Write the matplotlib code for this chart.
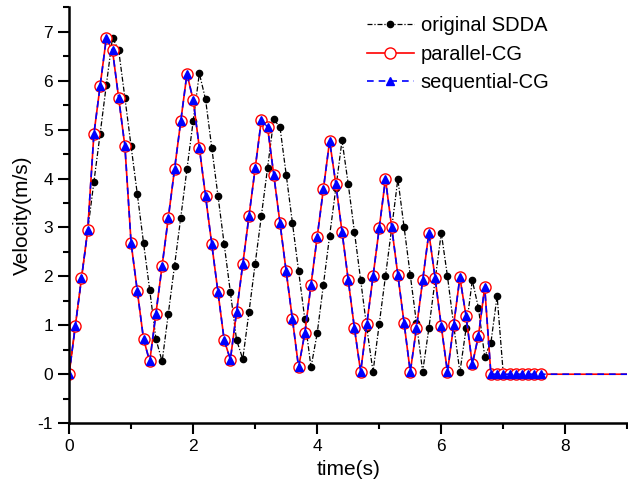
import numpy as np
import matplotlib
matplotlib.use("Agg")
import matplotlib.pyplot as plt
from matplotlib.ticker import MultipleLocator

plt.rcParams['font.family'] = ['Liberation Sans', 'DejaVu Sans']
plt.rcParams['axes.unicode_minus'] = False

# velocity samples every 0.1 s
dt = 0.1
v_sdda = [0, 0.98, 1.96, 2.94, 3.93, 4.91, 5.91, 6.88, 6.62, 5.65,
          4.66, 3.68, 2.69, 1.72, 0.72, 0.26, 1.24, 2.22, 3.20, 4.19,
          5.17, 6.15, 5.62, 4.63, 3.65, 2.66, 1.68, 0.70, 0.31, 1.27,
          2.26, 3.24, 4.22, 5.21, 5.05, 4.08, 3.10, 2.11, 1.13, 0.14,
          0.84, 1.83, 2.83, 3.80, 4.78, 3.89, 2.91, 1.93, 0.94, 0.05,
          1.03, 2.00, 2.98, 3.99, 3.01, 2.03, 1.05, 0.05, 0.94, 1.92,
          2.89, 2.00, 1.00, 0.04, 0.94, 1.92, 1.35, 0.36, 0.64, 1.60,
          0]
v_cg = [0, 0.98, 1.96, 2.94, 4.91, 5.89, 6.87, 6.62, 5.64, 4.66,
        2.68, 1.70, 0.72, 0.26, 1.24, 2.22, 3.20, 4.19, 5.17, 6.14,
        5.61, 4.63, 3.64, 2.66, 1.68, 0.70, 0.30, 1.27, 2.25, 3.23,
        4.21, 5.20, 5.05, 4.07, 3.09, 2.10, 1.13, 0.14, 0.84, 1.83,
        2.81, 3.79, 4.77, 3.89, 2.91, 1.93, 0.94, 0.05, 1.03, 2.00,
        2.99, 3.99, 3.01, 2.03, 1.05, 0.05, 0.94, 1.92, 2.89, 1.97,
        0.98, 0.04, 1.01, 1.98, 1.18, 0.20, 0.79, 1.78,
        0, 0, 0, 0, 0, 0, 0, 0, 0]
n_cg_marked = len(v_cg)
# CG solutions stay at rest until the end of the run
v_cg = v_cg + [0] * 15
v_seq = list(v_cg)

t_sdda = np.arange(len(v_sdda)) * dt
t_cg = np.arange(len(v_cg)) * dt

fig = plt.figure(figsize=(6.28, 4.92), dpi=100)
ax = fig.add_axes([0.110, 0.140, 0.889, 0.845])

ax.plot(t_sdda, v_sdda, color='black', lw=0.9, dashes=(4, 1.5, 1, 1.5),
        marker='o', ms=4.5, label='original SDDA')
ax.plot(t_cg, v_cg, color='red', lw=1.2, marker='o', ms=8,
        mfc='white', mec='red', mew=1.0, markevery=slice(0, n_cg_marked),
        label='parallel-CG')
ax.plot(t_cg, v_seq, color='blue', lw=1.2, dashes=(4, 3),
        marker='^', ms=6, mec='blue', mfc='blue',
        markevery=slice(0, n_cg_marked), label='sequential-CG')

ax.set_xlim(0, 9)
ax.set_ylim(-1, 7.5)
ax.xaxis.set_major_locator(MultipleLocator(2))
ax.xaxis.set_minor_locator(MultipleLocator(1))
ax.yaxis.set_major_locator(MultipleLocator(1))
ax.yaxis.set_minor_locator(MultipleLocator(0.5))
ax.tick_params(which='major', direction='out', length=8, width=1.5,
               labelsize=12.5)
ax.tick_params(which='minor', direction='out', length=4.5, width=1.5)
ax.spines['top'].set_visible(False)
ax.spines['right'].set_visible(False)
ax.spines['left'].set_linewidth(1.8)
ax.spines['bottom'].set_linewidth(1.8)

ax.set_xlabel('time(s)', fontsize=15)
ax.set_ylabel('Velocity(m/s)', fontsize=15)

ax.legend(loc='upper left', bbox_to_anchor=(0.556, 1.004),
          bbox_transform=fig.transFigure, frameon=False, fontsize=14.5,
          handlelength=2.3, handletextpad=0.35, labelspacing=0.47)

fig.savefig('out.png', dpi=100)
